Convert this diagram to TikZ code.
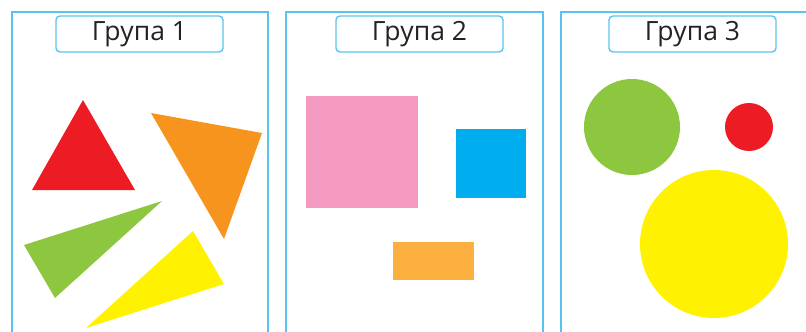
\documentclass[tikz,border=0pt]{standalone}
\usepackage{fontspec}
\setmainfont{Open Sans}
\usetikzlibrary{positioning}
\definecolor{framecyan}{RGB}{90, 196, 240}
\definecolor{shapered}{RGB}{237, 28, 36}
\definecolor{shapeorange}{RGB}{247, 148, 29}
\definecolor{shapegreen}{RGB}{141, 198, 63}
\definecolor{shapeyellow}{RGB}{255, 242, 0}
\definecolor{shapepink}{RGB}{244, 154, 193}
\definecolor{shapeblue}{RGB}{0, 174, 239}
\definecolor{shapeamber}{RGB}{251, 176, 64}
\definecolor{labelgray}{RGB}{35, 35, 35}

\begin{document}
\begin{tikzpicture}[x=1pt, y=-1pt, thick,
    panel/.style={draw=framecyan, line width=1.6pt},
    grouplabel/.style={draw=framecyan, line width=1.4pt, rounded corners=4pt, fill=white,
        minimum width=167pt, minimum height=36pt, inner sep=0pt,
        text=labelgray, font=\fontsize{26.5}{30}\selectfont}]
    \useasboundingbox (0,0) rectangle (806,332);

    % panels, open at the bottom
    \draw[panel] (12,332) -- (12,12) -- (268,12) -- (268,332);
    \draw[panel] (286,332) -- (286,12) -- (543,12) -- (543,332);
    \draw[panel] (561,332) -- (561,12) -- (806,12);

    \node[grouplabel] (lab1) at (139.5,34) {Група 1};
    \node[grouplabel] (lab2) at (419.5,34) {Група 2};
    \node[grouplabel] (lab3) at (692.5,34) {Група 3};

    % group 1: triangles
    \fill[shapered] (83,100) -- (135,190) -- (32,190) -- cycle;
    \fill[shapeorange] (151,113) -- (262,133) -- (224,239) -- cycle;
    \fill[shapegreen] (24,245) -- (162,201) -- (55,298) -- cycle;
    \fill[shapeyellow] (193,231) -- (224,284) -- (86,328) -- cycle;

    % group 2: rectangles
    \fill[shapepink] (306,96) rectangle (418,208);
    \fill[shapeblue] (456,129) rectangle (526,198);
    \fill[shapeamber] (393,242) rectangle (474,280);

    % group 3: circles
    \fill[shapegreen] (632,127) circle (48);
    \fill[shapered] (749,127) circle (24);
    \fill[shapeyellow] (714,244) circle (74);
\end{tikzpicture}
\end{document}
